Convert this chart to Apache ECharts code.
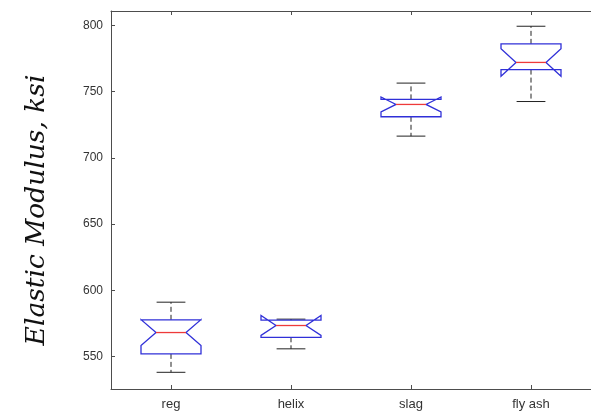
<!DOCTYPE html>
<html>
<head>
<meta charset="utf-8">
<script src="https://cdn.jsdelivr.net/npm/echarts@6/dist/echarts.min.js"></script>
<style>
html,body{margin:0;padding:0;background:#fff;}
#chart{width:591px;height:417px;}
</style>
</head>
<body>
<div id="chart"></div>
<script>
// ---- data ----
const categories = ['reg', 'helix', 'slag', 'fly ash'];
const whiskerLow  = [538.2, 555.9, 716.4, 742.5];
const q1          = [552.1, 564.6, 731.0, 766.6];
const median      = [568.2, 573.5, 740.3, 772.0];
const q3          = [577.8, 577.5, 744.1, 786.0];
const whiskerHigh = [591.1, 578.3, 756.4, 799.3];
const notchLow    = [558.4, 566.0, 734.7, 761.6];
const notchHigh   = [578.0, 581.0, 745.9, 782.4];
const yTicks = [550, 600, 650, 700, 750, 800];
const xTicks = [1, 2, 3, 4];

const boxData = categories.map((c, i) => [i + 1, whiskerLow[i], q1[i], median[i], q3[i], whiskerHigh[i], notchLow[i], notchHigh[i]]);

const chart = echarts.init(document.getElementById('chart'), null, {renderer: 'canvas'});
const axisColor = '#4d4d4d';
const labelColor = '#333333';

function renderBox(params, api) {
  const x = api.value(0);
  const wl = api.value(1), lq = api.value(2), md = api.value(3), uq = api.value(4), wh = api.value(5), nl = api.value(6), nh = api.value(7);
  const hw = api.size([0.25, 0])[0];
  const nw = hw * 0.5;
  const cw = api.size([0.12, 0])[0];
  const cx = api.coord([x, md])[0];
  const Y = v => api.coord([x, v])[1];
  const dash = {stroke: '#222', lineWidth: 1, lineDash: [5, 3]};
  const solid = {stroke: '#222', lineWidth: 1};
  const poly = [
    [cx - hw, Y(lq)], [cx - hw, Y(nl)], [cx - nw, Y(md)], [cx - hw, Y(nh)], [cx - hw, Y(uq)],
    [cx + hw, Y(uq)], [cx + hw, Y(nh)], [cx + nw, Y(md)], [cx + hw, Y(nl)], [cx + hw, Y(lq)]
  ];
  return {
    type: 'group',
    children: [
      {type: 'line', shape: {x1: cx, y1: Y(uq), x2: cx, y2: Y(wh)}, style: dash},
      {type: 'line', shape: {x1: cx, y1: Y(lq), x2: cx, y2: Y(wl)}, style: dash},
      {type: 'line', shape: {x1: cx - cw, y1: Y(wh), x2: cx + cw, y2: Y(wh)}, style: solid},
      {type: 'line', shape: {x1: cx - cw, y1: Y(wl), x2: cx + cw, y2: Y(wl)}, style: solid},
      {type: 'polygon', shape: {points: poly}, style: {fill: null, stroke: '#3030d8', lineWidth: 1.3}},
      {type: 'line', shape: {x1: cx - nw, y1: Y(md), x2: cx + nw, y2: Y(md)}, style: {stroke: '#ee3a3a', lineWidth: 1.3}}
    ]
  };
}

const option = {
  backgroundColor: '#ffffff',
  animation: false,
  grid: {left: 111, right: -5, top: 11, bottom: 28, containLabel: false},
  xAxis: [
    {
      type: 'value', position: 'bottom', min: 0.5, max: 4.5,
      axisLine: {show: true, onZero: false, lineStyle: {color: axisColor, width: 1}},
      axisTick: {show: true, inside: true, length: 4, customValues: xTicks, lineStyle: {color: axisColor}},
      axisLabel: {
        show: true, customValues: xTicks, margin: 9, color: labelColor, fontSize: 13,
        fontFamily: 'Liberation Sans, Arial, sans-serif',
        formatter: v => categories[Math.round(v) - 1] || ''
      },
      splitLine: {show: false}
    },
    {
      type: 'value', position: 'top', min: 0.5, max: 4.5,
      axisLine: {show: true, onZero: false, lineStyle: {color: axisColor, width: 1}},
      axisTick: {show: true, inside: true, length: 4, customValues: xTicks, lineStyle: {color: axisColor}},
      axisLabel: {show: false},
      splitLine: {show: false}
    }
  ],
  yAxis: [{
    type: 'value', min: 525.6, max: 810.8,
    name: 'Elastic Modulus, ksi', nameLocation: 'middle', nameRotate: 90, nameGap: 60,
    nameTextStyle: {fontFamily: 'DejaVu Serif, serif', fontStyle: 'italic', fontSize: 26.5, color: '#111', padding: [0, 20, 0, 0]},
    axisLine: {show: true, onZero: false, lineStyle: {color: axisColor, width: 1}},
    axisTick: {show: true, inside: true, length: 4, customValues: yTicks, lineStyle: {color: axisColor}},
    axisLabel: {customValues: yTicks, margin: 8, color: labelColor, fontSize: 12, fontFamily: 'Liberation Sans, Arial, sans-serif'},
    splitLine: {show: false}
  }],
  series: [{
    type: 'custom',
    xAxisIndex: 0, yAxisIndex: 0,
    renderItem: renderBox,
    encode: {x: 0, y: [1, 2, 3, 4, 5, 6, 7]},
    data: boxData,
    clip: false
  }]
};
chart.setOption(option);
</script>
</body>
</html>
